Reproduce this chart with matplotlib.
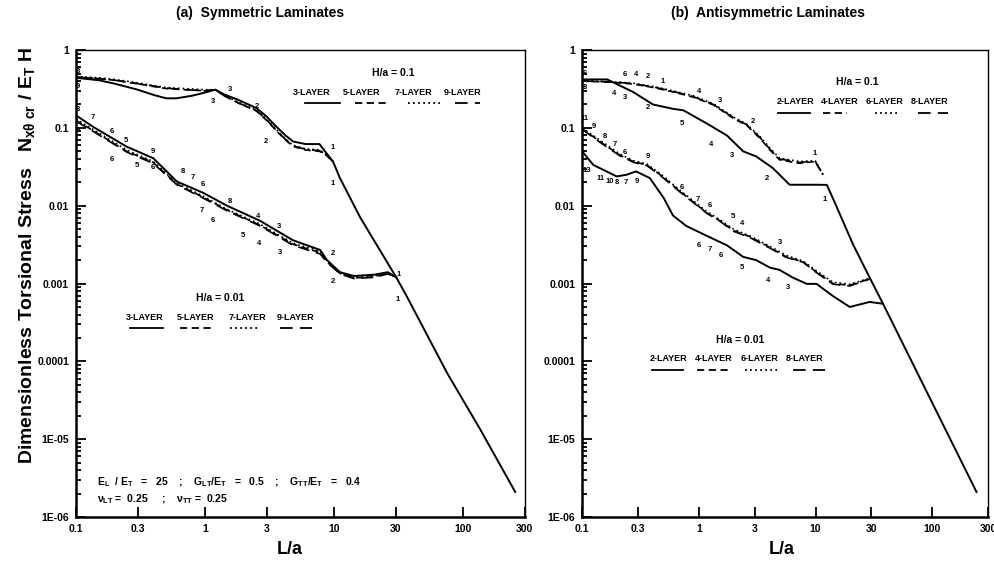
import numpy as np
import matplotlib.pyplot as plt
from matplotlib.lines import Line2D
from matplotlib.ticker import FixedLocator, LogLocator, NullFormatter

plt.rcParams['font.family'] = ['Liberation Sans', 'DejaVu Sans']
plt.rcParams['font.weight'] = 'bold'
plt.rcParams['mathtext.fontset'] = 'custom'
plt.rcParams['mathtext.rm'] = 'Liberation Sans:bold'
plt.rcParams['mathtext.it'] = 'Liberation Sans:bold'
plt.rcParams['mathtext.bf'] = 'Liberation Sans:bold'

# ---------------- (a) symmetric laminates ----------------
# H/a = 0.1
sym01_x3 = [0.1, 0.15, 0.2, 0.3, 0.4, 0.5, 0.6, 0.8, 1.0, 1.2, 1.4, 1.8, 2.5, 3.0, 3.5,
            4.2, 4.8, 6.0, 7.7, 8.5, 9.8, 11.1, 15.9, 30.3, 36.8, 75, 135, 253]
sym01_y3 = [0.44, 0.41, 0.37, 0.31, 0.265, 0.24, 0.24, 0.26, 0.285, 0.31, 0.27, 0.23, 0.18,
            0.14, 0.107, 0.08, 0.067, 0.062, 0.062, 0.05, 0.037, 0.0226, 0.0071, 0.0012,
            6.7e-4, 7.1e-5, 1.35e-5, 2.1e-6]
sym01_x = [0.1, 0.15, 0.2, 0.3, 0.4, 0.5, 0.7, 1.0, 1.2, 1.4, 1.8, 2.5, 3.0, 3.5, 4.2,
           4.8, 6.0, 7.7, 8.5, 9.8]
sym01_y5 = [0.45, 0.43, 0.41, 0.37, 0.34, 0.32, 0.31, 0.30, 0.31, 0.26, 0.21, 0.165, 0.125,
            0.095, 0.07, 0.058, 0.052, 0.05, 0.046, 0.037]
sym01_y7 = [0.46, 0.44, 0.42, 0.38, 0.35, 0.33, 0.32, 0.31, 0.31, 0.265, 0.215, 0.17, 0.13,
            0.098, 0.072, 0.06, 0.054, 0.052, 0.047, 0.037]
sym01_y9 = [0.45, 0.43, 0.41, 0.37, 0.345, 0.325, 0.31, 0.30, 0.31, 0.26, 0.21, 0.167, 0.127,
            0.096, 0.071, 0.059, 0.053, 0.051, 0.046, 0.037]

# H/a = 0.01
sym001_x = [0.1, 0.136, 0.247, 0.397, 0.604, 0.97, 1.48, 2.67, 4.8, 7.8, 8.8, 11.1, 14.2,
            20.5, 26, 30.3]
sym001_y3 = [0.145, 0.103, 0.0574, 0.0408, 0.0205, 0.0146, 0.01, 0.0064, 0.0036, 0.0027,
             0.002, 0.0014, 0.00125, 0.0013, 0.0014, 0.0012]
sym001_y5 = [0.125, 0.092, 0.050, 0.036, 0.019, 0.0128, 0.0088, 0.0056, 0.0032, 0.0025,
             0.0019, 0.00135, 0.00118, 0.00122, 0.00135, 0.0012]
sym001_y7 = [0.13, 0.095, 0.052, 0.037, 0.0195, 0.0132, 0.009, 0.0058, 0.0033, 0.0026,
             0.00195, 0.00138, 0.0012, 0.00125, 0.00138, 0.0012]
sym001_y9 = [0.122, 0.09, 0.049, 0.035, 0.0186, 0.0125, 0.0086, 0.0055, 0.0031, 0.0024,
             0.00188, 0.00133, 0.00116, 0.0012, 0.00133, 0.0012]

sym_labels = [
    (0.104, 0.536, '8'), (0.104, 0.345, '9'), (1.56, 0.316, '3'), (1.15, 0.216, '3'),
    (2.53, 0.187, '2'), (2.97, 0.067, '2'), (9.8, 0.056, '1'), (9.8, 0.0195, '1'),
    (0.104, 0.171, '8'), (0.104, 0.092, '9'), (0.135, 0.135, '7'), (0.19, 0.0897, '6'),
    (0.19, 0.0395, '6'), (0.244, 0.069, '5'), (0.297, 0.033, '5'), (0.395, 0.05, '9'),
    (0.395, 0.031, '6'), (0.675, 0.0278, '8'), (0.807, 0.0233, '7'), (0.965, 0.019, '6'),
    (1.56, 0.0115, '8'), (0.948, 0.0086, '7'), (1.15, 0.0064, '6'), (2.58, 0.0072, '4'),
    (3.75, 0.0054, '3'), (1.97, 0.0042, '5'), (2.63, 0.0033, '4'), (3.81, 0.0025, '3'),
    (9.8, 0.0024, '2'), (9.8, 0.00105, '2'), (31.9, 0.00132, '1'), (30.8, 0.00062, '1'),
]

# ---------------- (b) antisymmetric laminates ----------------
# H/a = 0.1
anti01_x2 = [0.1, 0.164, 0.273, 0.405, 0.6, 0.74, 1.17, 1.74, 2.4, 3.1, 4.3, 6.0, 10.9,
             12.5, 14.8, 20.9, 29.0, 37.8, 239]
anti01_y2 = [0.42, 0.42, 0.29, 0.2, 0.176, 0.168, 0.114, 0.08, 0.05, 0.043, 0.0305, 0.0186,
             0.0186, 0.0185, 0.0105, 0.0032, 0.0012, 5.5e-4, 2.1e-6]
anti01_x = [0.1, 0.185, 0.275, 0.41, 0.6, 0.9, 1.33, 2.0, 2.57, 3.35, 4.07, 4.9, 7.3, 9.9, 11.6]
anti01_y4 = [0.40, 0.385, 0.366, 0.33, 0.29, 0.248, 0.198, 0.131, 0.108, 0.073, 0.052, 0.039,
             0.035, 0.037, 0.025]
anti01_y6 = [0.41, 0.39, 0.375, 0.34, 0.30, 0.258, 0.205, 0.137, 0.112, 0.077, 0.055, 0.041,
             0.037, 0.038, 0.025]
anti01_y8 = [0.40, 0.39, 0.37, 0.335, 0.295, 0.252, 0.2, 0.134, 0.11, 0.075, 0.053, 0.04,
             0.036, 0.0375, 0.025]

# H/a = 0.01
anti001_x2 = [0.1, 0.125, 0.198, 0.24, 0.29, 0.38, 0.5, 0.6, 0.78, 1.17, 1.74, 2.4, 3.1,
              4.07, 4.9, 6.4, 8.4, 10.2, 14.1, 19.6, 29.0, 37.8]
anti001_y2 = [0.05, 0.0334, 0.0238, 0.025, 0.0276, 0.0227, 0.0126, 0.0075, 0.0055, 0.0041,
              0.0031, 0.0022, 0.002, 0.0016, 0.0015, 0.00119, 0.00099, 0.00099, 0.00069,
              0.0005, 0.00058, 0.00055]
anti001_x = [0.1, 0.143, 0.211, 0.275, 0.358, 0.465, 0.69, 1.17, 1.52, 1.98, 2.74, 4.07,
             5.6, 7.8, 10.2, 14.1, 19.6, 29.0]
anti001_y4 = [0.098, 0.0664, 0.0446, 0.0369, 0.0334, 0.0251, 0.0153, 0.0081, 0.0064, 0.0048,
              0.0040, 0.0029, 0.0022, 0.0019, 0.0014, 0.00100, 0.00095, 0.00115]
anti001_y6 = [0.1, 0.069, 0.046, 0.038, 0.0345, 0.026, 0.0158, 0.0084, 0.0066, 0.005, 0.0041,
              0.003, 0.0023, 0.00195, 0.00145, 0.00104, 0.00098, 0.00117]
anti001_y8 = [0.096, 0.065, 0.0438, 0.0362, 0.0328, 0.0247, 0.015, 0.008, 0.0063, 0.0047,
              0.0039, 0.00285, 0.00217, 0.00188, 0.00138, 0.00098, 0.00093, 0.00114]

anti_labels = [
    (0.106, 0.505, '6'), (0.106, 0.326, '8'), (0.233, 0.49, '6'), (0.29, 0.49, '4'),
    (0.367, 0.46, '2'), (0.494, 0.4, '1'), (0.188, 0.273, '4'), (0.233, 0.243, '3'),
    (0.367, 0.181, '2'), (1.0, 0.29, '4'), (1.52, 0.222, '3'), (0.718, 0.113, '5'),
    (2.91, 0.12, '2'), (1.27, 0.061, '4'), (1.92, 0.0446, '3'), (3.84, 0.0226, '2'),
    (9.9, 0.047, '1'), (12.0, 0.0119, '1'),
    (0.106, 0.131, '11'), (0.127, 0.104, '9'), (0.157, 0.0776, '8'), (0.192, 0.0615, '7'),
    (0.233, 0.0485, '6'), (0.367, 0.0431, '9'), (0.11, 0.0286, '13'), (0.143, 0.0226, '11'),
    (0.174, 0.0207, '10'), (0.2, 0.0196, '8'), (0.238, 0.02, '7'), (0.296, 0.0207, '9'),
    (0.718, 0.0169, '6'), (0.98, 0.0119, '7'), (1.25, 0.01, '6'), (1.96, 0.0072, '5'),
    (2.34, 0.0059, '4'), (4.95, 0.0034, '3'), (1.0, 0.0031, '6'), (1.25, 0.0027, '7'),
    (1.55, 0.0023, '6'), (2.34, 0.0016, '5'), (3.9, 0.0011, '4'), (5.8, 0.00088, '3'),
]

xticks = [0.1, 0.3, 1, 3, 10, 30, 100, 300]
xticklabels = ['0.1', '0.3', '1', '3', '10', '30', '100', '300']
yticks = [1e-6, 1e-5, 1e-4, 1e-3, 1e-2, 1e-1, 1]
yticklabels = ['1E-06', '1E-05', '0.0001', '0.001', '0.01', '0.1', '1']

styles = ['-', (0, (4, 2.5)), (0, (1, 1.8)), (0, (7, 4))]


def setup_axes(ax):
    ax.set_xscale('log')
    ax.set_yscale('log')
    ax.set_xlim(0.1, 300)
    ax.set_ylim(1e-6, 1)
    ax.xaxis.set_major_locator(FixedLocator(xticks))
    ax.set_xticklabels(xticklabels)
    ax.xaxis.set_minor_locator(FixedLocator([]))
    ax.yaxis.set_major_locator(FixedLocator(yticks))
    ax.set_yticklabels(yticklabels)
    ax.yaxis.set_minor_locator(LogLocator(base=10, subs=np.arange(2, 10)))
    ax.yaxis.set_minor_formatter(NullFormatter())
    ax.tick_params(which='both', direction='in', top=False, right=False,
                   labelsize=7.5, width=1.3)
    ax.tick_params(which='major', length=7, pad=5)
    ax.tick_params(which='minor', length=3.5)
    for t in ax.get_xticklabels() + ax.get_yticklabels():
        t.set_fontweight('bold')
    for s in ['left', 'bottom']:
        ax.spines[s].set_linewidth(1.8)
    for s in ['top', 'right']:
        ax.spines[s].set_linewidth(1.0)


def draw_legend(ax, title, tx, ty, names, cx, ly, segs, line_y):
    ax.text(tx, ty, title, transform=ax.transAxes, ha='center', va='center',
            fontsize=7.5, fontweight='bold')
    for name, c in zip(names, cx):
        ax.text(c, ly, name, transform=ax.transAxes, ha='center', va='center',
                fontsize=6.5, fontweight='bold')
    for (x0, x1), ls in zip(segs, styles):
        ax.add_line(Line2D([x0, x1], [line_y, line_y], transform=ax.transAxes,
                           color='black', lw=1.3, linestyle=ls))


fig = plt.figure(figsize=(9.95, 5.68), dpi=100)
axa = fig.add_axes([0.0764, 0.0898, 0.451, 0.822])
axb = fig.add_axes([0.585, 0.0898, 0.408, 0.822])

# panel (a)
axa.plot(sym01_x3, sym01_y3, color='black', lw=1.4, linestyle=styles[0])
for yv, ls in zip([sym01_y5, sym01_y7, sym01_y9], styles[1:]):
    axa.plot(sym01_x, yv, color='black', lw=1.2, linestyle=ls)
axa.plot(sym001_x, sym001_y3, color='black', lw=1.4, linestyle=styles[0])
for yv, ls in zip([sym001_y5, sym001_y7, sym001_y9], styles[1:]):
    axa.plot(sym001_x, yv, color='black', lw=1.2, linestyle=ls)
for x, y, s in sym_labels:
    axa.text(x, y, s, ha='center', va='center', fontsize=5.5, fontweight='bold')

sym_names = ['3-LAYER', '5-LAYER', '7-LAYER', '9-LAYER']
draw_legend(axa, 'H/a = 0.1', 0.706, 0.951, sym_names, [0.526, 0.637, 0.753, 0.862], 0.91,
            [(0.51, 0.588), (0.621, 0.699), (0.739, 0.811), (0.844, 0.90)], 0.886)
draw_legend(axa, 'H/a = 0.01', 0.321, 0.469, sym_names, [0.154, 0.267, 0.381, 0.49], 0.428,
            [(0.12, 0.194), (0.232, 0.305), (0.343, 0.41), (0.454, 0.526)], 0.405)
axa.text(0.047, 0.075,
         r'E$_L$  / E$_T$   =   25    ;    G$_{LT}$/E$_T$   =   0.5    ;    G$_{TT}$/E$_T$   =   0.4',
         transform=axa.transAxes, ha='left', va='center', fontsize=7.5, fontweight='bold')
axa.text(0.047, 0.0385, r'ν$_{LT}$ =  0.25     ;    ν$_{TT}$ =  0.25',
         transform=axa.transAxes, ha='left', va='center', fontsize=7.5, fontweight='bold')

# panel (b)
axb.plot(anti01_x2, anti01_y2, color='black', lw=1.4, linestyle=styles[0])
for yv, ls in zip([anti01_y4, anti01_y6, anti01_y8], styles[1:]):
    axb.plot(anti01_x, yv, color='black', lw=1.2, linestyle=ls)
axb.plot(anti001_x2, anti001_y2, color='black', lw=1.4, linestyle=styles[0])
for yv, ls in zip([anti001_y4, anti001_y6, anti001_y8], styles[1:]):
    axb.plot(anti001_x, yv, color='black', lw=1.2, linestyle=ls)
for x, y, s in anti_labels:
    axb.text(x, y, s, ha='center', va='center', fontsize=5.5, fontweight='bold')

anti_names = ['2-LAYER', '4-LAYER', '6-LAYER', '8-LAYER']
draw_legend(axb, 'H/a = 0.1', 0.677, 0.931, anti_names, [0.525, 0.635, 0.746, 0.857], 0.889,
            [(0.483, 0.562), (0.594, 0.653), (0.722, 0.778), (0.828, 0.901)], 0.865)
draw_legend(axb, 'H/a = 0.01', 0.389, 0.379, anti_names, [0.214, 0.325, 0.438, 0.549], 0.34,
            [(0.172, 0.249), (0.283, 0.369), (0.401, 0.48), (0.52, 0.598)], 0.315)

for ax in (axa, axb):
    setup_axes(ax)

fig.text(260 / 995, 1 - 13 / 568, '(a)  Symmetric Laminates', ha='center', va='center',
         fontsize=10, fontweight='bold')
fig.text(768 / 995, 1 - 13 / 568, '(b)  Antisymmetric Laminates', ha='center', va='center',
         fontsize=10, fontweight='bold')
fig.text(290 / 995, 1 - 550 / 568, 'L/a', ha='center', va='center', fontsize=13,
         fontweight='bold')
fig.text(782 / 995, 1 - 550 / 568, 'L/a', ha='center', va='center', fontsize=13,
         fontweight='bold')
fig.text(27 / 995, 1 - 255 / 568,
         r'Dimensionless Torsional Stress   N$_{xθ\ cr}$ / E$_T$ H',
         rotation=90, ha='center', va='center', fontsize=14, fontweight='bold')

fig.savefig('out.png', dpi=100)
